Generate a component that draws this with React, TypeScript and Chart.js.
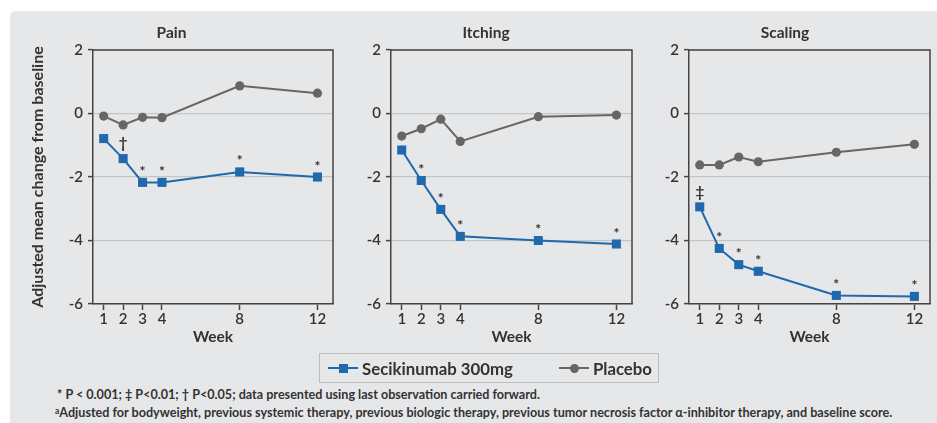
import React, { useEffect, useRef } from "react";
import { Chart, registerables } from "chart.js";

Chart.register(...registerables);

// ---------- data ----------
const weeks = [1, 2, 3, 4, 8, 12];
const panelTitles = ["Pain", "Itching", "Scaling"];
const seriesNames = ["Secikinumab 300mg", "Placebo"];

const painSecukinumab = [-0.79, -1.42, -2.17, -2.17, -1.84, -2.0];
const painPlacebo = [-0.08, -0.36, -0.12, -0.13, 0.87, 0.64];
const itchingSecukinumab = [-1.15, -2.11, -3.02, -3.87, -4.0, -4.11];
const itchingPlacebo = [-0.71, -0.48, -0.18, -0.88, -0.1, -0.05];
const scalingSecukinumab = [-2.94, -4.25, -4.76, -4.97, -5.73, -5.76];
const scalingPlacebo = [-1.62, -1.62, -1.37, -1.52, -1.22, -0.97];

const painMarks = ["", "†", "*", "*", "*", "*"];
const itchingMarks = ["", "*", "*", "*", "*", "*"];
const scalingMarks = ["‡", "*", "*", "*", "*", "*"];

const yAxisTitle = "Adjusted mean change from baseline";
const xAxisTitle = "Week";
const footnote1 = "* P < 0.001; ‡ P<0.01; † P<0.05; data presented using last observation carried forward.";
const footnote2 =
  "Adjusted for bodyweight, previous systemic therapy, previous biologic therapy, previous tumor necrosis factor α-inhibitor therapy, and baseline score.";

// ---------- style ----------
const FONT = "Lato, 'Noto Sans', sans-serif";
const BLUE = "#1f69ac";
const GRAY = "#666666";
const TEXT = "#333333";
const AXIS = "#444444";
const GRID = "#c4c5c7";
const PANEL_BG = "#e6e7e9";

const boxPlugin = {
  id: "boxPlugin",
  beforeDatasetsDraw(chart: any) {
    const { ctx, chartArea } = chart;
    ctx.save();
    ctx.strokeStyle = AXIS;
    ctx.lineWidth = 1.5;
    ctx.beginPath();
    ctx.moveTo(chartArea.left, chartArea.top);
    ctx.lineTo(chartArea.right, chartArea.top);
    ctx.lineTo(chartArea.right, chartArea.bottom);
    ctx.stroke();
    ctx.restore();
  },
};

const marksPlugin = {
  id: "marksPlugin",
  afterDatasetsDraw(chart: any, _args: any, opts: any) {
    const marks: string[] = opts.marks || [];
    const meta = chart.getDatasetMeta(0);
    const { ctx } = chart;
    ctx.save();
    ctx.fillStyle = TEXT;
    ctx.textAlign = "center";
    ctx.textBaseline = "middle";
    meta.data.forEach((pt: any, i: number) => {
      const m = marks[i];
      if (!m) return;
      if (m === "*") {
        ctx.font = `bold 14px ${FONT}`;
        ctx.fillText(m, pt.x, pt.y - 11);
      } else {
        ctx.font = `bold 15px ${FONT}`;
        ctx.fillText(m, pt.x, pt.y - 15);
      }
    });
    ctx.restore();
  },
};

type PanelProps = {
  title: string;
  sec: number[];
  pl: number[];
  marks: string[];
  showYTitle: boolean;
  left: number;
  width: number;
  yWidth: number;
  padRight: number;
};

function Panel(p: PanelProps) {
  const ref = useRef<HTMLCanvasElement>(null);
  useEffect(() => {
    if (!ref.current) return;
    const chart = new Chart(ref.current, {
      type: "line",
      data: {
        datasets: [
          {
            label: seriesNames[0],
            data: weeks.map((w, i) => ({ x: w, y: p.sec[i] })),
            borderColor: BLUE,
            backgroundColor: BLUE,
            borderWidth: 2,
            pointStyle: "rect",
            pointRadius: 6.4,
            pointBorderWidth: 0,
          },
          {
            label: seriesNames[1],
            data: weeks.map((w, i) => ({ x: w, y: p.pl[i] })),
            borderColor: GRAY,
            backgroundColor: GRAY,
            borderWidth: 2,
            pointStyle: "circle",
            pointRadius: 4.6,
            pointBorderWidth: 0,
          },
        ],
      },
      options: {
        animation: false,
        responsive: false,
        devicePixelRatio: 1,
        layout: { padding: { left: 0, right: p.padRight, top: 0, bottom: 0 } },
        plugins: {
          legend: { display: false },
          tooltip: { enabled: false },
          title: {
            display: true,
            text: p.title,
            color: TEXT,
            font: { family: FONT, size: 15.5, weight: "bold", lineHeight: 1.2 },
            padding: { top: 13, bottom: 7.4 },
          },
          marksPlugin: { marks: p.marks },
        } as any,
        scales: {
          x: {
            type: "linear",
            min: 0.45,
            max: 12.8,
            afterBuildTicks: (scale: any) => {
              scale.ticks = weeks.map((v) => ({ value: v }));
            },
            afterFit: (scale: any) => {
              scale.height = 52;
            },
            ticks: {
              color: TEXT,
              font: { family: FONT, size: 15, weight: "600" },
              padding: 0,
              maxRotation: 0,
              autoSkip: false,
              callback: (v: any) => String(v),
            },
            grid: { drawOnChartArea: false, tickLength: 6, tickColor: AXIS, tickWidth: 1.5 },
            border: { color: AXIS, width: 1.5 },
            title: {
              display: true,
              text: xAxisTitle,
              color: TEXT,
              font: { family: FONT, size: 15.5, weight: "bold", lineHeight: 1.2 },
              padding: { top: 0, bottom: 10 },
            },
          },
          y: {
            type: "linear",
            min: -6,
            max: 2,
            afterFit: (scale: any) => {
              scale.width = p.yWidth;
            },
            ticks: {
              stepSize: 2,
              color: TEXT,
              font: { family: FONT, size: 15, weight: "600" },
              padding: 5,
            },
            grid: { color: GRID, lineWidth: 1.2, tickLength: 5, tickColor: AXIS, tickWidth: 1.5 },
            border: { color: AXIS, width: 1.5 },
            title: {
              display: p.showYTitle,
              text: yAxisTitle,
              color: TEXT,
              font: { family: FONT, size: 16, weight: "bold", lineHeight: 1.2 },
              padding: { top: 18.4, bottom: 0 },
            },
          },
        },
      } as any,
      plugins: [boxPlugin, marksPlugin],
    });
    return () => chart.destroy();
  }, []);
  return (
    <canvas
      ref={ref}
      width={p.width}
      height={345}
      style={{ position: "absolute", left: p.left, top: 11, width: p.width, height: 345 }}
    />
  );
}

function LegendItem({ color, square, label }: { color: string; square: boolean; label: string }) {
  return (
    <div style={{ display: "flex", alignItems: "center" }}>
      <div style={{ position: "relative", width: 30, height: 10, marginRight: 4 }}>
        <div style={{ position: "absolute", left: 0, top: 4, width: 30, height: 2, background: color }} />
        <div
          style={{
            position: "absolute",
            left: 11,
            top: 0.5,
            width: 9,
            height: 9,
            background: color,
            borderRadius: square ? 0 : "50%",
          }}
        />
      </div>
      <span>{label}</span>
    </div>
  );
}

export default function App() {
  return (
    <div
      style={{
        position: "fixed",
        left: 0,
        top: 0,
        width: 937,
        height: 423,
        background: "#ffffff",
        overflow: "hidden",
        fontFamily: FONT,
      }}
    >
      <div
        style={{
          position: "absolute",
          left: 10,
          top: 11,
          right: 0,
          bottom: 0,
          background: PANEL_BG,
          borderTopLeftRadius: 5,
        }}
      />
      <Panel title={panelTitles[0]} sec={painSecukinumab} pl={painPlacebo} marks={painMarks} showYTitle={true} left={10} width={330} yWidth={83} padRight={7} />
      <Panel title={panelTitles[1]} sec={itchingSecukinumab} pl={itchingPlacebo} marks={itchingMarks} showYTitle={false} left={340} width={300} yWidth={51} padRight={8} />
      <Panel title={panelTitles[2]} sec={scalingSecukinumab} pl={scalingPlacebo} marks={scalingMarks} showYTitle={false} left={640} width={297} yWidth={49} padRight={7} />
      <div
        style={{
          position: "absolute",
          left: 319,
          top: 353,
          width: 340,
          height: 30,
          boxSizing: "border-box",
          border: "1.5px solid #bcbdbf",
          display: "flex",
          alignItems: "center",
          justifyContent: "space-between",
          padding: "0 6px 0 8px",
          fontSize: 16.8,
          fontWeight: 700,
          color: TEXT,
        }}
      >
        <LegendItem color={BLUE} square={true} label={seriesNames[0]} />
        <LegendItem color={GRAY} square={false} label={seriesNames[1]} />
      </div>
      <div
        style={{
          position: "absolute",
          left: 57,
          top: 386,
          fontSize: 12.6,
          fontWeight: 700,
          color: TEXT,
          whiteSpace: "nowrap",
          lineHeight: "17px",
        }}
      >
        <div>{footnote1}</div>
        <div style={{ marginLeft: -2 }}>
          <span style={{ fontSize: 8.5, verticalAlign: "3px" }}>a</span>
          {footnote2}
        </div>
      </div>
    </div>
  );
}
